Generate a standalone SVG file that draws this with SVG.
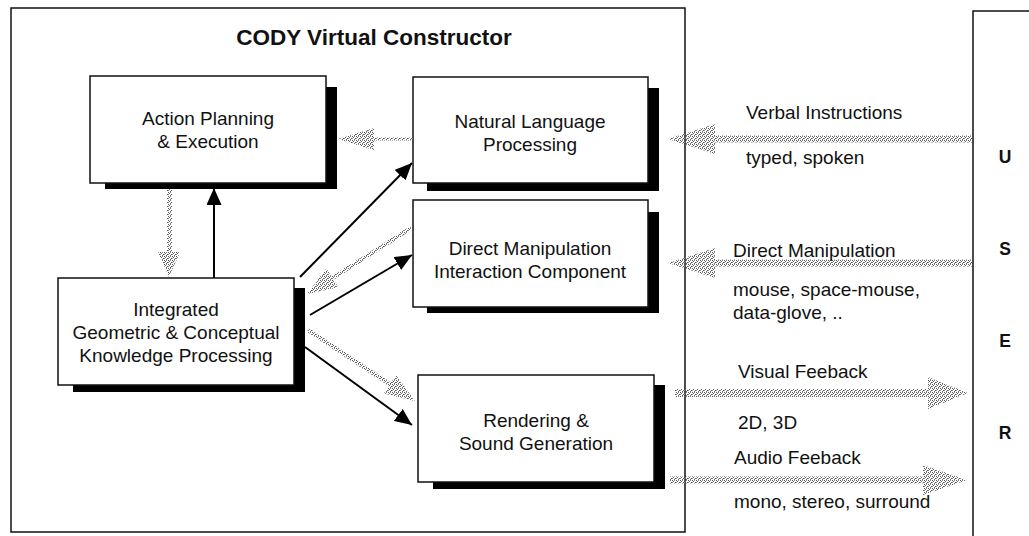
<svg xmlns="http://www.w3.org/2000/svg" width="1029" height="536" viewBox="0 0 1029 536">
<style>
text{font-family:"Liberation Sans",Arial,sans-serif;fill:#111}
.n{font-size:19px;text-anchor:middle}
.l{font-size:19px}
.t{font-size:22.5px;font-weight:bold;text-anchor:middle}
.u{font-size:17.5px;font-weight:bold;text-anchor:middle}
.box{fill:#fff;stroke:#111;stroke-width:1.5}
.sh{fill:#000}
.frame{fill:#fff;stroke:#111;stroke-width:1.5}
.blk{stroke:#000;stroke-width:2;fill:none;marker-end:url(#ah)}
.gs{fill:url(#stip)}
.gl{stroke:url(#stip);fill:none}
</style>
<defs>
<pattern id="stip" width="4" height="4" patternUnits="userSpaceOnUse">
<rect x="0" y="0" width="1" height="1" fill="#555"/>
<rect x="2" y="0" width="1" height="1" fill="#888"/>
<rect x="1" y="1" width="1" height="1" fill="#666"/>
<rect x="3" y="2" width="1" height="1" fill="#555"/>
<rect x="0" y="2" width="1" height="1" fill="#888"/>
<rect x="2" y="3" width="1" height="1" fill="#666"/>
</pattern>
<marker id="ah" markerUnits="userSpaceOnUse" markerWidth="18" markerHeight="16" refX="17" refY="7.5" orient="auto">
<path d="M0,0 L17,7.5 L0,15 z" fill="#000"/>
</marker>
</defs>
<rect width="1029" height="536" fill="#fff"/>
<g id="cody-frame">
<rect class="frame" x="11" y="8" width="674" height="524"/>
<text class="t" x="374" y="45">CODY Virtual Constructor</text>
</g>
<g id="user">
<rect class="frame" x="973" y="11" width="70" height="540"/>
<text class="u" x="1005" y="163">U</text>
<text class="u" x="1005" y="255">S</text>
<text class="u" x="1005" y="347">E</text>
<text class="u" x="1005" y="439">R</text>
</g>
<g id="action-planning">
<rect class="sh" x="105" y="87" width="232" height="102"/>
<rect class="box" x="90" y="76" width="236" height="107"/>
<text class="n" x="208" y="125">Action Planning</text>
<text class="n" x="208" y="148">&amp; Execution</text>
</g>
<g id="natural-language">
<rect class="sh" x="427" y="88" width="232" height="103"/>
<rect class="box" x="413" y="77" width="235" height="106"/>
<text class="n" x="530" y="128">Natural Language</text>
<text class="n" x="530" y="151">Processing</text>
</g>
<g id="direct-manipulation">
<rect class="sh" x="427" y="212" width="232" height="101"/>
<rect class="box" x="413" y="200" width="235" height="107"/>
<text class="n" x="530" y="255">Direct Manipulation</text>
<text class="n" x="530" y="278">Interaction Component</text>
</g>
<g id="integrated">
<rect class="sh" x="73" y="288" width="232" height="104"/>
<rect class="box" x="58" y="278" width="236" height="107"/>
<text class="n" x="176" y="316">Integrated</text>
<text class="n" x="176" y="339">Geometric &amp; Conceptual</text>
<text class="n" x="176" y="362">Knowledge Processing</text>
</g>
<g id="rendering">
<rect class="sh" x="433" y="385" width="232" height="104"/>
<rect class="box" x="418" y="375" width="236" height="107"/>
<text class="n" x="536" y="427">Rendering &amp;</text>
<text class="n" x="536" y="450">Sound Generation</text>
</g>
<g id="connectors">
<line class="blk" x1="214" y1="278" x2="214" y2="188"/>
<line class="blk" x1="300" y1="277" x2="412" y2="163"/>
<line class="blk" x1="310" y1="315" x2="412" y2="255"/>
<line class="blk" x1="305" y1="347" x2="412" y2="425"/>
<line class="gl" stroke-width="3" x1="413" y1="139" x2="372" y2="139"/>
<polygon class="gs" points="338,139 374,128 374,150"/>
<line class="gl" stroke-width="5" x1="169.5" y1="189" x2="169.5" y2="254"/>
<polygon class="gs" points="169,277 158,252 180,252"/>
<line class="gl" stroke-width="4" x1="411" y1="228" x2="331" y2="279"/>
<polygon class="gs" points="307,294 338.2,287.2 326.4,268.6"/>
<line class="gl" stroke-width="4" x1="308" y1="330" x2="391" y2="385"/>
<polygon class="gs" points="415,401 396.1,375.2 383.9,393.6"/>
<polygon class="gs" points="668,139 715,124 715,135.5 972,135.5 972,142.5 715,142.5 715,154"/>
<polygon class="gs" points="668,263 715,248 715,259.5 972,259.5 972,266.5 715,266.5 715,278"/>
<polygon class="gs" points="968,393 928,377 928,389 675,389 675,397 928,397 928,409"/>
<polygon class="gs" points="967,480 923,465 923,476.5 670,476.5 670,483.5 923,483.5 923,495"/>
</g>
<g id="labels">
<text class="l" x="746" y="119">Verbal Instructions</text>
<text class="l" x="746" y="164">typed, spoken</text>
<text class="l" x="733" y="257">Direct Manipulation</text>
<text class="l" x="733" y="296">mouse, space-mouse,</text>
<text class="l" x="733" y="319">data-glove, ..</text>
<text class="l" x="738" y="378">Visual Feeback</text>
<text class="l" x="738" y="429">2D, 3D</text>
<text class="l" x="734" y="464">Audio Feeback</text>
<text class="l" x="734" y="508">mono, stereo, surround</text>
</g>
</svg>
